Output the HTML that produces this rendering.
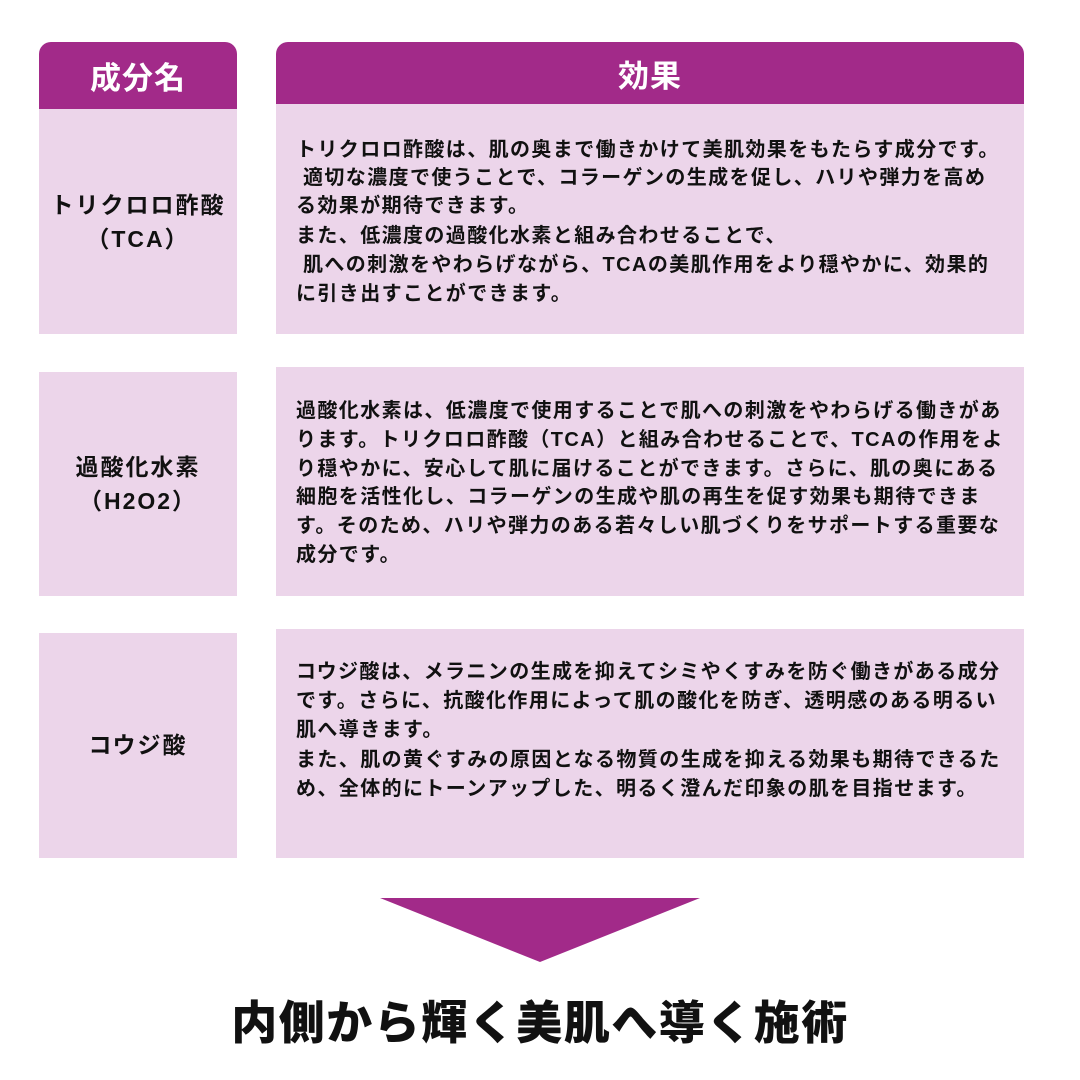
<!DOCTYPE html>
<html><head><meta charset="utf-8"><style>
body{margin:0;width:1080px;height:1080px;background:#fff;position:relative;overflow:hidden;font-family:"Liberation Sans","Noto Sans CJK JP",sans-serif;font-weight:bold;color:#111}
.b{position:absolute;background:#ecd5ea}
.h{position:absolute;background:#a22a89;color:#fff;font-size:31px;display:flex;align-items:center;justify-content:center;border-radius:12px 12px 0 0;letter-spacing:1px}
.l{position:absolute;white-space:nowrap;font-size:20px;line-height:20px;letter-spacing:1.4px}
.c{position:absolute;left:39px;width:198px;text-align:center;font-size:23px;line-height:34px;letter-spacing:2px}
</style></head><body>
<div class="h" style="left:39px;top:42px;width:198px;height:67px">成分名</div>
<div class="h" style="left:276px;top:42px;width:748px;height:62px">効果</div>
<div class="b" style="left:39px;top:109px;width:198px;height:225px"></div>
<div class="b" style="left:276px;top:104px;width:748px;height:230px"></div>
<div class="b" style="left:39px;top:372px;width:198px;height:224px"></div>
<div class="b" style="left:276px;top:367px;width:748px;height:229px"></div>
<div class="b" style="left:39px;top:633px;width:198px;height:225px"></div>
<div class="b" style="left:276px;top:629px;width:748px;height:229px"></div>

<div class="c" style="top:188px">トリクロロ酢酸<br>（TCA）</div>
<div class="c" style="top:450px">過酸化水素<br>（H2O2）</div>
<div class="c" style="top:728px">コウジ酸</div>

<div class="l" style="left:296px;top:140px">トリクロロ酢酸は、肌の奥まで働きかけて美肌効果をもたらす成分です。</div>
<div class="l" style="left:296px;top:168px">&nbsp;適切な濃度で使うことで、コラーゲンの生成を促し、ハリや弾力を高め</div>
<div class="l" style="left:296px;top:196px">る効果が期待できます。</div>
<div class="l" style="left:296px;top:226px">また、低濃度の過酸化水素と組み合わせることで、</div>
<div class="l" style="left:296px;top:255px">&nbsp;肌への刺激をやわらげながら、TCAの美肌作用をより穏やかに、効果的</div>
<div class="l" style="left:296px;top:284px">に引き出すことができます。</div>

<div class="l" style="left:296px;top:401px">過酸化水素は、低濃度で使用することで肌への刺激をやわらげる働きがあ</div>
<div class="l" style="left:296px;top:430px">ります。トリクロロ酢酸（TCA）と組み合わせることで、TCAの作用をよ</div>
<div class="l" style="left:296px;top:459px">り穏やかに、安心して肌に届けることができます。さらに、肌の奥にある</div>
<div class="l" style="left:296px;top:487px">細胞を活性化し、コラーゲンの生成や肌の再生を促す効果も期待できま</div>
<div class="l" style="left:296px;top:516px">す。そのため、ハリや弾力のある若々しい肌づくりをサポートする重要な</div>
<div class="l" style="left:296px;top:545px">成分です。</div>

<div class="l" style="left:296px;top:662px">コウジ酸は、メラニンの生成を抑えてシミやくすみを防ぐ働きがある成分</div>
<div class="l" style="left:296px;top:691px">です。さらに、抗酸化作用によって肌の酸化を防ぎ、透明感のある明るい</div>
<div class="l" style="left:296px;top:720px">肌へ導きます。</div>
<div class="l" style="left:296px;top:750px">また、肌の黄ぐすみの原因となる物質の生成を抑える効果も期待できるた</div>
<div class="l" style="left:296px;top:779px">め、全体的にトーンアップした、明るく澄んだ印象の肌を目指せます。</div>

<svg style="position:absolute;left:0;top:0" width="1080" height="1080"><polygon points="380,898 700,898 540,962" fill="#a22a89"/></svg>
<div style="position:absolute;left:0;width:1080px;top:994px;text-align:center;font-size:46px;line-height:58px;font-weight:900;letter-spacing:1.5px">内側から輝く美肌へ導く施術</div>
</body></html>
